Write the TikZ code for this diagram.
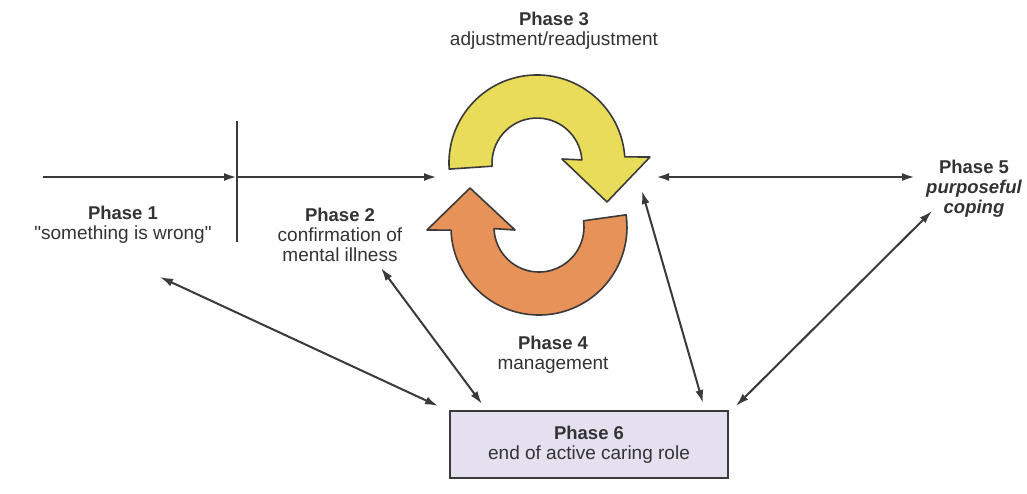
\documentclass[tikz,border=0pt]{standalone}
\usepackage{fontspec}
\setmainfont{Liberation Sans}[Ligatures=TeXOff]
\usetikzlibrary{arrows.meta}
\definecolor{ln}{HTML}{3A3A3A}
\definecolor{yel}{HTML}{E9DC58}
\definecolor{org}{HTML}{E69258}
\definecolor{boxfill}{HTML}{E4E0F0}
\definecolor{txt}{HTML}{333333}
\tikzset{
  tip/.tip={Latex[length=13pt,width=8pt]},
  fwd/.style={draw=ln, line width=2.4pt, -tip},
  both/.style={draw=ln, line width=2pt, tip-tip},
  lab/.style={align=center, text=txt, inner sep=0pt, font=\fontsize{19}{20}\selectfont},
  cyc/.style={draw=ln, line width=1.6pt, line join=round},
}
\newcommand{\phs}[1]{{\fontsize{18.5}{20}\selectfont\bfseries #1}}
\begin{document}
\begin{tikzpicture}[x=1pt,y=-1pt]
\useasboundingbox[fill=white] (0,0) rectangle (1027,494);

% labels
\node[lab] (p1) at (123,225) {\phs{Phase 1}\\"something is wrong"};
\node[lab] (p2) at (340,235) {\phs{Phase 2}\\confirmation of\\mental illness};
\node[lab] (p3) at (554,31) {\phs{Phase 3}\\adjustment/readjustment};
\node[lab] (p4) at (553,355) {\phs{Phase 4}\\management};
\node[lab] (p5) at (974,189) {\phs{Phase 5}\\\phs{\itshape purposeful}\\\phs{\itshape coping}};
\node[lab, draw=ln, line width=2pt, fill=boxfill, minimum width=278pt, minimum height=67pt] (p6) at (589,444.5) {\phs{Phase 6}\\end of active caring role};

% cycle arrows
\path[cyc, fill=yel] (624.8,156.9) -- (650,157) -- (607,202) -- (562,159) -- (581.9,159.9)
  arc[start angle=356, end angle=176, radius=45] -- (449.2,169.1)
  arc[start angle=176, end angle=356, radius=88] -- cycle;
\path[cyc, fill=org] (626.1,214.8) arc[start angle=-8, end angle=178, radius=88]
  -- (427,230) -- (470,188) -- (515,230) -- (494.0,228.6)
  arc[start angle=178, end angle=-8, radius=45] -- cycle;

% timeline
\coordinate (s) at (43,177);
\coordinate (m) at (237,177);
\coordinate (mt) at (237,121);
\coordinate (mb) at (237,242);
\coordinate (e) at (437,177);
\coordinate (c3l) at (656,177);
\coordinate (c3r) at (915,177);
\draw[draw=ln, line width=2.8pt] (mt) -- (mb);
\draw[fwd] (s) -- (m);
\draw[fwd] (m) -- (e);
\draw[both, line width=2.4pt] (c3l) -- (c3r);

% diagonals
\coordinate (d1a) at (160,277);
\coordinate (d1b) at (438,406);
\coordinate (d2a) at (381,268);
\coordinate (d2b) at (482,404);
\coordinate (d3a) at (642,191);
\coordinate (d3b) at (703,403);
\coordinate (d4a) at (932,211);
\coordinate (d4b) at (736,406);
\draw[both] (d1a) -- (d1b);
\draw[both] (d2a) -- (d2b);
\draw[both] (d3a) -- (d3b);
\draw[both] (d4a) -- (d4b);
\end{tikzpicture}
\end{document}
